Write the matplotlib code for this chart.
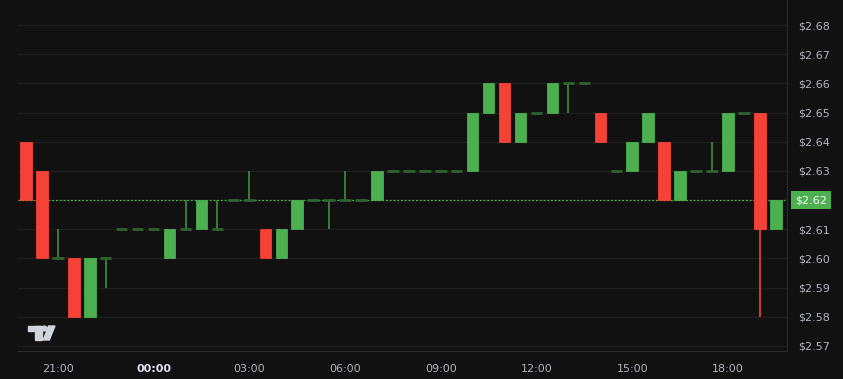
import matplotlib
matplotlib.use('Agg')
import matplotlib.pyplot as plt
import matplotlib.transforms as mtransforms
from matplotlib.patches import Rectangle, Polygon, Circle

# 30 minute candles, 20:00 -> 19:30 next day
times = ['20:00', '20:30', '21:00', '21:30', '22:00', '22:30', '23:00', '23:30',
         '00:00', '00:30', '01:00', '01:30', '02:00', '02:30', '03:00', '03:30',
         '04:00', '04:30', '05:00', '05:30', '06:00', '06:30', '07:00', '07:30',
         '08:00', '08:30', '09:00', '09:30', '10:00', '10:30', '11:00', '11:30',
         '12:00', '12:30', '13:00', '13:30', '14:00', '14:30', '15:00', '15:30',
         '16:00', '16:30', '17:00', '17:30', '18:00', '18:30', '19:00', '19:30']
opens = [2.64, 2.63, 2.60, 2.60, 2.58, 2.60, 2.61, 2.61,
         2.61, 2.60, 2.61, 2.61, 2.61, 2.62, 2.62, 2.61,
         2.60, 2.61, 2.62, 2.62, 2.62, 2.62, 2.62, 2.63,
         2.63, 2.63, 2.63, 2.63, 2.63, 2.65, 2.66, 2.64,
         2.65, 2.65, 2.66, 2.66, 2.65, 2.63, 2.63, 2.64,
         2.64, 2.62, 2.63, 2.63, 2.63, 2.65, 2.65, 2.61]
highs = [2.64, 2.63, 2.61, 2.60, 2.60, 2.60, 2.61, 2.61,
         2.61, 2.61, 2.62, 2.62, 2.62, 2.62, 2.63, 2.61,
         2.61, 2.62, 2.62, 2.62, 2.63, 2.62, 2.63, 2.63,
         2.63, 2.63, 2.63, 2.63, 2.65, 2.66, 2.66, 2.65,
         2.65, 2.66, 2.66, 2.66, 2.65, 2.63, 2.64, 2.65,
         2.64, 2.63, 2.63, 2.64, 2.65, 2.65, 2.65, 2.62]
lows = [2.62, 2.60, 2.60, 2.58, 2.58, 2.59, 2.61, 2.61,
        2.61, 2.60, 2.61, 2.61, 2.61, 2.62, 2.62, 2.60,
        2.60, 2.61, 2.62, 2.61, 2.62, 2.62, 2.62, 2.63,
        2.63, 2.63, 2.63, 2.63, 2.63, 2.65, 2.64, 2.64,
        2.65, 2.65, 2.65, 2.66, 2.64, 2.63, 2.63, 2.64,
        2.62, 2.62, 2.63, 2.63, 2.63, 2.65, 2.58, 2.61]
closes = [2.62, 2.60, 2.60, 2.58, 2.60, 2.60, 2.61, 2.61,
          2.61, 2.61, 2.61, 2.62, 2.61, 2.62, 2.62, 2.60,
          2.61, 2.62, 2.62, 2.62, 2.62, 2.62, 2.63, 2.63,
          2.63, 2.63, 2.63, 2.63, 2.65, 2.66, 2.64, 2.65,
          2.65, 2.66, 2.66, 2.66, 2.64, 2.63, 2.64, 2.65,
          2.62, 2.63, 2.63, 2.63, 2.65, 2.65, 2.61, 2.62]
price_ticks = [2.57, 2.58, 2.59, 2.60, 2.61, 2.62, 2.63, 2.64, 2.65, 2.66, 2.67, 2.68]
time_labels = ['21:00', '00:00', '03:00', '06:00', '09:00', '12:00', '15:00', '18:00']

BG = '#111111'
GRID = '#1e1e1e'
UP = '#4caf50'
DOWN = '#f44336'
DOJI = '#2e6331'
TXT = '#b2b5be'

W, H = 843, 379
fig = plt.figure(figsize=(W / 100, H / 100), dpi=100, facecolor=BG)
ax = fig.add_axes([18 / W, (H - 351) / H, (787 - 18) / W, 351 / H])
ax.set_facecolor(BG)

px = 0.01 / 29.18
ax.set_ylim(2.57 - 5 * px, 2.68 + 25 * px)
ax.set_xlim(-0.5, 47.7)

body_w = 0.72
for i in range(len(times)):
    o, h, l, c = opens[i], highs[i], lows[i], closes[i]
    if c > o:
        col = UP
    elif c < o:
        col = DOWN
    else:
        col = DOJI
    wick_col = DOWN if c < o else '#3f8f43'
    if h > max(o, c) or l < min(o, c):
        ax.vlines(i, l, h, color=wick_col, lw=1.2, zorder=3)
    if c == o:
        ax.hlines(o, i - body_w / 2, i + body_w / 2, color=DOJI, lw=2, zorder=3)
    else:
        ax.add_patch(Rectangle((i - body_w / 2, min(o, c)), body_w, abs(c - o),
                               facecolor=col, edgecolor=col, lw=0.6, zorder=4))

# horizontal grid
for p in price_ticks:
    ax.axhline(p, color=GRID, lw=1, zorder=1)

# last price line and label
last = closes[-1]
ax.axhline(last, color=UP, lw=0.9, ls=(0, (1.5, 1.5)), zorder=2)
trans = mtransforms.blended_transform_factory(ax.transAxes, ax.transData)
ax.text(1.0 + 8 / 769, last, '$%.2f' % last, transform=trans, color='white',
        fontsize=8, ha='left', va='center', zorder=10, clip_on=False,
        bbox=dict(boxstyle='square,pad=0.35', fc=UP, ec='none'))

ax.yaxis.tick_right()
ax.set_yticks(price_ticks)
ax.set_yticklabels(['' if p == last else '$%.2f' % p for p in price_ticks])
ax.tick_params(axis='y', length=0, pad=8, labelsize=8, labelcolor=TXT)

tick_pos = [times.index(t) for t in time_labels]
ax.set_xticks(tick_pos)
ax.set_xticklabels(time_labels)
ax.tick_params(axis='x', length=0, pad=9, labelsize=8, labelcolor=TXT)
for lab in ax.get_xticklabels():
    if lab.get_text() == '00:00':
        lab.set_fontweight('bold')
        lab.set_color('#e0e3eb')

for s in ['top', 'left']:
    ax.spines[s].set_visible(False)
ax.spines['right'].set_color('#2a2a2a')
ax.spines['bottom'].set_color('#2a2a2a')

# TradingView logo
lg = fig.add_axes([0, 0, 1, 1], zorder=20)
lg.set_xlim(0, W)
lg.set_ylim(H, 0)
lg.axis('off')
lg.patch.set_alpha(0)
logo = '#d1d4dc'
lg.add_patch(Rectangle((28.3, 326), 13, 5, color=logo))
lg.add_patch(Rectangle((35, 326), 6.5, 14, color=logo))
lg.add_patch(Circle((44.5, 328.5), 2.4, color=logo))
lg.add_patch(Polygon([(43.3, 340), (49.3, 340), (55, 326), (48.5, 326)], color=logo))

fig.savefig('out.png', dpi=100, facecolor=BG)
